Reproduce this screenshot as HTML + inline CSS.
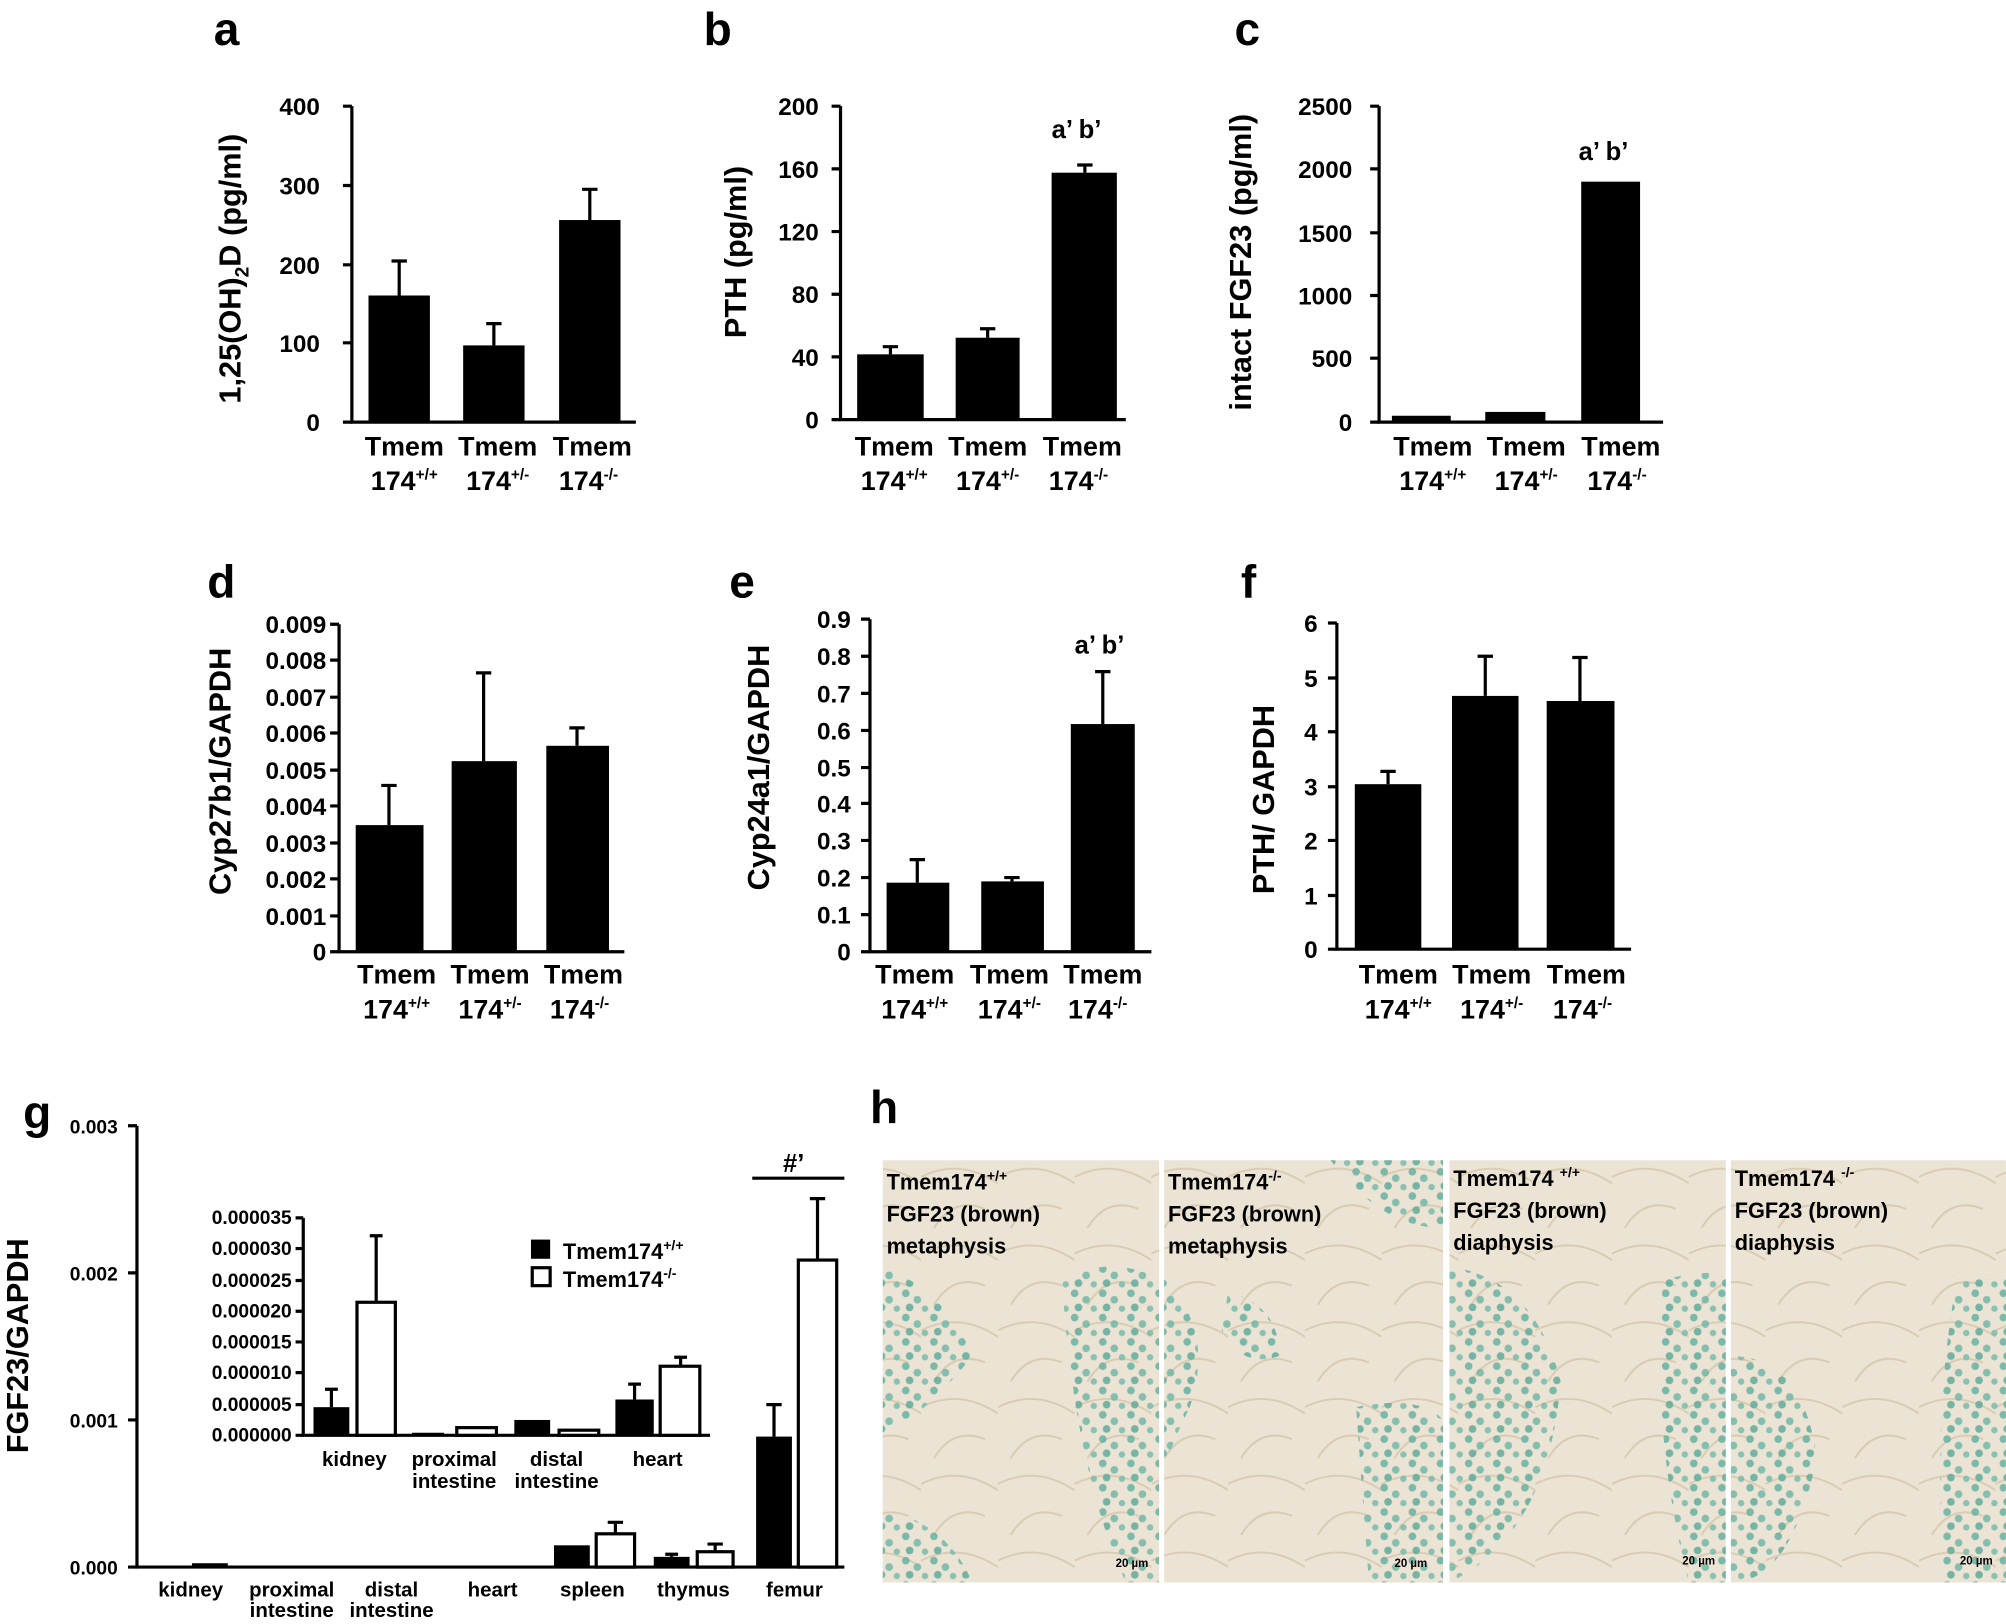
<!DOCTYPE html>
<html><head><meta charset="utf-8"><style>
html,body{margin:0;padding:0;background:#fff}
svg{display:block}
text{font-family:"Liberation Sans",Arial,sans-serif;font-weight:bold;fill:#000}
</style></head><body>
<svg width="2006" height="1624" viewBox="0 0 1568 1269.5" xmlns="http://www.w3.org/2000/svg">
<defs>
<pattern id="dots" width="22" height="19" patternUnits="userSpaceOnUse">
<circle cx="4" cy="4" r="3" fill="#5fae9f"/><circle cx="13" cy="9" r="3" fill="#6bb5a6"/><circle cx="7" cy="15" r="3" fill="#58a898"/><circle cx="19" cy="16" r="2.5" fill="#73b9aa"/>
</pattern>
<pattern id="tis" width="60" height="60" patternUnits="userSpaceOnUse">
<rect width="60" height="60" fill="#ebe3d4"/>
<path d="M0 20 Q30 5 60 25 M10 60 Q25 35 50 45" stroke="#d9cbb1" stroke-width="1.5" fill="none"/>
</pattern>
</defs>
<g stroke="#000" stroke-width="2.5" fill="none">
<path d="M275 83V330H497"/>
<path d="M275 83h-7M275 145h-7M275 207h-7M275 268h-7M275 330h-7"/>
<path d="M312 231V204m-6 0h12M386 270V253m-6 0h12M461 172V148m-6 0h12"/>
<path d="M657 83V328H880"/>
<path d="M657 83h-7M657 132h-7M657 181h-7M657 230h-7M657 279h-7M657 328h-7"/>
<path d="M696 277V271m-6 0h12M772 264V257m-6 0h12M848 135V129m-6 0h12"/>
<path d="M1078 83V330H1300"/>
<path d="M1078 83h-7M1078 132h-7M1078 182h-7M1078 231h-7M1078 280h-7M1078 330h-7"/>
<path d="M265 488V744H488"/>
<path d="M265 488h-7M265 516h-7M265 545h-7M265 573h-7M265 602h-7M265 630h-7M265 659h-7M265 687h-7M265 716h-7M265 744h-7"/>
<path d="M304 645V614m-6 0h12M378 595V526m-6 0h12M451 583V569m-6 0h12"/>
<path d="M680 484V744H900"/>
<path d="M680 484h-7M680 513h-7M680 542h-7M680 571h-7M680 600h-7M680 628h-7M680 657h-7M680 686h-7M680 715h-7M680 744h-7"/>
<path d="M717 690V672m-6 0h12M791 689V686m-6 0h12M862 566V525m-6 0h12"/>
<path d="M1045 487V742H1275"/>
<path d="M1045 487h-7M1045 530h-7M1045 572h-7M1045 615h-7M1045 657h-7M1045 700h-7M1045 742h-7"/>
<path d="M1085 613V603m-6 0h12M1161 544V513m-6 0h12M1235 548V514m-6 0h12"/>
<path d="M107 880V1225H660"/>
<path d="M107 880h-7M107 995h-7M107 1110h-7M107 1225h-7"/>
<path d="M605 1123V1098m-6 0h12M639 985V937m-6 0h12M481 1199V1190m-6 0h12M559 1213V1207m-6 0h12M525 1217V1215m-5 0h10"/>
<path d="M588 921H660"/>
<path d="M237 952V1122H555"/>
<path d="M237 952h-6M237 976h-6M237 1001h-6M237 1025h-6M237 1049h-6M237 1073h-6M237 1098h-6M237 1122h-6"/>
<path d="M259 1100V1086m-5 0h10M294 1018V966m-5 0h10M532 1068V1061m-5 0h10M496 1094V1082m-5 0h10"/>
</g>
<g fill="#000">
<rect x="288" y="231" width="48" height="99"/><rect x="362" y="270" width="48" height="60"/><rect x="437" y="172" width="48" height="158"/>
<rect x="670" y="277" width="52" height="51"/><rect x="747" y="264" width="50" height="64"/><rect x="822" y="135" width="51" height="193"/>
<rect x="1088" y="325" width="46" height="5"/><rect x="1161" y="322" width="47" height="8"/><rect x="1236" y="142" width="46" height="188"/>
<rect x="278" y="645" width="53" height="99"/><rect x="353" y="595" width="51" height="149"/><rect x="427" y="583" width="49" height="161"/>
<rect x="693" y="690" width="49" height="54"/><rect x="767" y="689" width="49" height="55"/><rect x="837" y="566" width="50" height="178"/>
<rect x="1059" y="613" width="52" height="129"/><rect x="1135" y="544" width="52" height="198"/><rect x="1209" y="548" width="53" height="194"/>
<rect x="591" y="1123" width="28" height="102"/><rect x="433" y="1208" width="28" height="17"/><rect x="511" y="1217" width="28" height="8"/>
<rect x="150" y="1222" width="28" height="3"/>
<rect x="245" y="1100" width="28" height="22"/><rect x="322" y="1120" width="25" height="2"/><rect x="402" y="1110" width="28" height="12"/><rect x="481" y="1094" width="30" height="28"/>
<rect x="415" y="969" width="15" height="15"/>
</g>
<g fill="#fff" stroke="#000" stroke-width="2.5">
<rect x="624" y="985" width="30" height="240"/><rect x="466" y="1199" width="30" height="26"/><rect x="545" y="1213" width="28" height="12"/>
<rect x="279" y="1018" width="30" height="104"/><rect x="357" y="1116" width="31" height="6"/><rect x="437" y="1118" width="31" height="4"/><rect x="516" y="1068" width="31" height="54"/>
<rect x="416" y="991" width="14" height="14"/>
</g>
<g font-size="36"><text x="167" y="35">a</text><text x="550" y="35">b</text><text x="965" y="35">c</text><text x="162" y="467">d</text><text x="570" y="467">e</text><text x="970" y="467">f</text><text x="18" y="882">g</text><text x="680" y="878">h</text></g>
<g font-size="19" text-anchor="end">
<text x="250" y="90">400</text><text x="250" y="152">300</text><text x="250" y="214">200</text><text x="250" y="275">100</text><text x="250" y="337">0</text>
<text x="640" y="90">200</text><text x="640" y="139">160</text><text x="640" y="188">120</text><text x="640" y="237">80</text><text x="640" y="286">40</text><text x="640" y="335">0</text>
<text x="1057" y="90">2500</text><text x="1057" y="139">2000</text><text x="1057" y="189">1500</text><text x="1057" y="238">1000</text><text x="1057" y="287">500</text><text x="1057" y="337">0</text>
<text x="255" y="495">0.009</text><text x="255" y="523">0.008</text><text x="255" y="552">0.007</text><text x="255" y="580">0.006</text><text x="255" y="609">0.005</text><text x="255" y="637">0.004</text><text x="255" y="666">0.003</text><text x="255" y="694">0.002</text><text x="255" y="723">0.001</text><text x="255" y="751">0</text>
<text x="665" y="491">0.9</text><text x="665" y="520">0.8</text><text x="665" y="549">0.7</text><text x="665" y="578">0.6</text><text x="665" y="607">0.5</text><text x="665" y="635">0.4</text><text x="665" y="664">0.3</text><text x="665" y="693">0.2</text><text x="665" y="722">0.1</text><text x="665" y="751">0</text>
<text x="1030" y="494">6</text><text x="1030" y="537">5</text><text x="1030" y="579">4</text><text x="1030" y="622">3</text><text x="1030" y="664">2</text><text x="1030" y="707">1</text><text x="1030" y="749">0</text>
</g>
<g font-size="15" text-anchor="end">
<text x="92" y="886">0.003</text><text x="92" y="1001">0.002</text><text x="92" y="1116">0.001</text><text x="92" y="1231">0.000</text>
<text x="228" y="957">0.000035</text><text x="228" y="981">0.000030</text><text x="228" y="1006">0.000025</text><text x="228" y="1030">0.000020</text><text x="228" y="1054">0.000015</text><text x="228" y="1078">0.000010</text><text x="228" y="1103">0.000005</text><text x="228" y="1127">0.000000</text>
</g>
<g font-size="24" text-anchor="middle">
<text transform="translate(188,210) rotate(-90)">1,25(OH)<tspan font-size="15" dy="6">2</tspan><tspan dy="-6">D (pg/ml)</tspan></text>
<text transform="translate(583,197) rotate(-90)">PTH (pg/ml)</text>
<text transform="translate(978,205) rotate(-90)">intact FGF23 (pg/ml)</text>
<text transform="translate(180,603) rotate(-90)">Cyp27b1/GAPDH</text>
<text transform="translate(601,600) rotate(-90)">Cyp24a1/GAPDH</text>
<text transform="translate(996,625) rotate(-90)">PTH/ GAPDH</text>
<text transform="translate(22,1052) rotate(-90)">FGF23/GAPDH</text>
</g>
<g font-size="21" text-anchor="middle">
<text x="316" y="356">Tmem</text><text x="389" y="356">Tmem</text><text x="463" y="356">Tmem</text>
<text x="316" y="383">174<tspan font-size="12" dy="-8">+/+</tspan></text><text x="389" y="383">174<tspan font-size="12" dy="-8">+/-</tspan></text><text x="460" y="383">174<tspan font-size="12" dy="-8">-/-</tspan></text>
<text x="699" y="356">Tmem</text><text x="772" y="356">Tmem</text><text x="846" y="356">Tmem</text>
<text x="699" y="383">174<tspan font-size="12" dy="-8">+/+</tspan></text><text x="772" y="383">174<tspan font-size="12" dy="-8">+/-</tspan></text><text x="843" y="383">174<tspan font-size="12" dy="-8">-/-</tspan></text>
<text x="1120" y="356">Tmem</text><text x="1193" y="356">Tmem</text><text x="1267" y="356">Tmem</text>
<text x="1120" y="383">174<tspan font-size="12" dy="-8">+/+</tspan></text><text x="1193" y="383">174<tspan font-size="12" dy="-8">+/-</tspan></text><text x="1264" y="383">174<tspan font-size="12" dy="-8">-/-</tspan></text>
<text x="310" y="769">Tmem</text><text x="383" y="769">Tmem</text><text x="456" y="769">Tmem</text>
<text x="310" y="796">174<tspan font-size="12" dy="-8">+/+</tspan></text><text x="383" y="796">174<tspan font-size="12" dy="-8">+/-</tspan></text><text x="453" y="796">174<tspan font-size="12" dy="-8">-/-</tspan></text>
<text x="715" y="769">Tmem</text><text x="789" y="769">Tmem</text><text x="862" y="769">Tmem</text>
<text x="715" y="796">174<tspan font-size="12" dy="-8">+/+</tspan></text><text x="789" y="796">174<tspan font-size="12" dy="-8">+/-</tspan></text><text x="858" y="796">174<tspan font-size="12" dy="-8">-/-</tspan></text>
<text x="1093" y="769">Tmem</text><text x="1166" y="769">Tmem</text><text x="1240" y="769">Tmem</text>
<text x="1093" y="796">174<tspan font-size="12" dy="-8">+/+</tspan></text><text x="1166" y="796">174<tspan font-size="12" dy="-8">+/-</tspan></text><text x="1237" y="796">174<tspan font-size="12" dy="-8">-/-</tspan></text>
</g>
<g font-size="20"><text x="822" y="108">a’  b’</text><text x="1234" y="125">a’  b’</text><text x="840" y="511">a’  b’</text><text x="612" y="916">#’</text></g>
<g font-size="16" text-anchor="middle" font-weight="normal">
<text x="149" y="1248">kidney</text><text x="228" y="1248">proximal</text><text x="228" y="1264">intestine</text><text x="306" y="1248">distal</text><text x="306" y="1264">intestine</text><text x="385" y="1248">heart</text><text x="463" y="1248">spleen</text><text x="542" y="1248">thymus</text><text x="621" y="1248">femur</text>
<text x="277" y="1146">kidney</text><text x="355" y="1146">proximal</text><text x="355" y="1163">intestine</text><text x="435" y="1146">distal</text><text x="435" y="1163">intestine</text><text x="514" y="1146">heart</text>
</g>
<g font-size="17" font-weight="normal"><text x="440" y="984">Tmem174<tspan font-size="11" dy="-7">+/+</tspan></text><text x="440" y="1006">Tmem174<tspan font-size="11" dy="-7">-/-</tspan></text></g>
<g>
<rect x="690" y="907" width="216" height="330" fill="url(#tis)"/>
<rect x="910" y="907" width="218" height="330" fill="url(#tis)"/>
<rect x="1133" y="907" width="216" height="330" fill="url(#tis)"/>
<rect x="1353" y="907" width="215" height="330" fill="url(#tis)"/>
<g fill="url(#dots)" opacity="0.8">
<path d="M690 990 Q740 1010 760 1060 Q720 1110 690 1120Z"/><path d="M830 1000 Q870 980 906 1000 V1237 H880 Q840 1150 830 1000Z"/><path d="M690 1180 Q740 1190 760 1237 H690Z"/>
<path d="M910 1000 Q950 1040 930 1100 Q915 1130 910 1150Z"/><path d="M1040 907 H1128 V960 Q1080 960 1040 907Z"/><path d="M1060 1100 Q1110 1090 1128 1110 V1237 H1070Z"/><path d="M960 1010 Q1000 1020 1000 1060 Q970 1070 955 1040Z"/>
<path d="M1133 990 Q1200 1000 1220 1080 Q1210 1200 1133 1237Z"/><path d="M1300 1000 Q1349 990 1349 1000 V1237 H1320 Q1290 1120 1300 1000Z"/>
<path d="M1353 1060 Q1410 1060 1420 1140 Q1400 1237 1353 1237Z"/><path d="M1530 1000 H1568 V1237 H1520 Q1510 1100 1530 1000Z"/>
</g>
</g>
<g font-size="17" text-anchor="start">
<text x="693" y="930">Tmem174<tspan font-size="11" dy="-7">+/+</tspan></text><text x="693" y="955">FGF23 (brown)</text><text x="693" y="980">metaphysis</text>
<text x="913" y="930">Tmem174<tspan font-size="11" dy="-7">-/-</tspan></text><text x="913" y="955">FGF23 (brown)</text><text x="913" y="980">metaphysis</text>
<text x="1136" y="927">Tmem174 <tspan font-size="11" dy="-7">+/+</tspan></text><text x="1136" y="952">FGF23 (brown)</text><text x="1136" y="977">diaphysis</text>
<text x="1356" y="927">Tmem174 <tspan font-size="11" dy="-7">-/-</tspan></text><text x="1356" y="952">FGF23 (brown)</text><text x="1356" y="977">diaphysis</text>
</g>
<g font-size="9" font-weight="normal"><text x="872" y="1225">20 µm</text><text x="1090" y="1225">20 µm</text><text x="1315" y="1223">20 µm</text><text x="1532" y="1223">20 µm</text></g>
</svg>
</body></html>
